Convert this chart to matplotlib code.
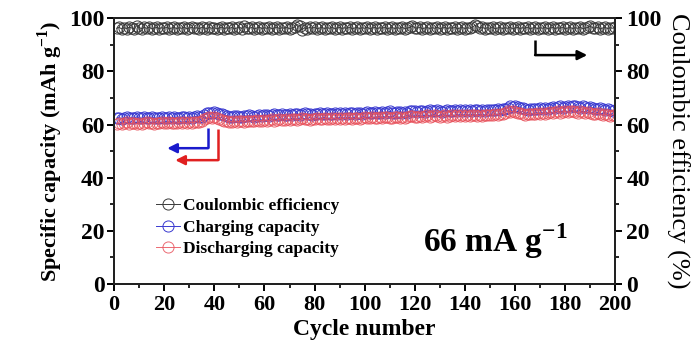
import matplotlib
matplotlib.use("Agg")
import matplotlib.pyplot as plt
import numpy as np
from matplotlib.ticker import MultipleLocator

plt.rcParams['font.family'] = ['Liberation Serif', 'DejaVu Serif']
plt.rcParams['mathtext.fontset'] = 'custom'
plt.rcParams['mathtext.rm'] = 'Liberation Serif'
plt.rcParams['mathtext.bf'] = 'Liberation Serif:bold'

cycles = np.arange(1, 201)

charge = [
    62.4, 62.6, 62.2, 62.5, 62.8, 62.3, 62.6, 62.4, 62.9, 62.5, 62.3, 62.7, 62.4, 62.6, 62.8, 62.5, 62.3, 62.6, 62.9, 62.5,
    62.4, 62.7, 62.5, 62.8, 62.6, 62.4, 62.9, 62.7, 62.5, 62.8, 62.6, 62.9, 63.1, 62.8, 63.0, 63.6, 64.2, 64.5, 64.3, 64.6,
    64.4, 64.1, 63.8, 63.6, 63.3, 63.0, 62.8, 63.1, 63.2, 62.9, 63.0, 63.3, 63.1, 63.4, 63.2, 63.0, 63.3, 63.5, 63.2, 63.4,
    63.6, 63.3, 63.5, 63.8, 63.4, 63.6, 63.9, 63.5, 63.7, 64.0, 63.6, 63.8, 64.1, 63.7, 63.9, 64.2, 63.8, 64.0, 63.7, 64.1,
    63.9, 64.2, 63.8, 64.0, 64.3, 63.9, 64.1, 64.4, 64.0, 64.2, 63.9, 64.3, 64.1, 64.4, 64.2, 64.0, 64.3, 64.5, 64.1, 64.3,
    64.6, 64.2, 64.4, 64.7, 64.3, 64.5, 64.8, 64.4, 64.6, 64.9, 64.5, 64.3, 64.6, 64.8, 64.4, 64.7, 64.5, 64.9, 65.2, 65.0,
    64.7, 64.9, 65.1, 64.8, 65.0, 65.3, 64.9, 65.1, 65.4, 65.0, 64.8, 65.1, 65.3, 64.9, 65.2, 65.5, 65.1, 65.3, 65.0, 65.4,
    65.2, 65.5, 65.1, 65.3, 65.6, 65.2, 65.4, 65.1, 65.5, 65.3, 65.6, 65.4, 65.8, 65.5, 65.7, 66.0, 66.4, 66.8, 66.6, 66.9,
    66.7, 66.4, 66.1, 65.8, 65.6, 65.9, 65.7, 66.0, 65.8, 66.1, 65.9, 66.2, 66.0, 66.3, 66.5, 66.2, 66.6, 66.8, 66.4, 66.7,
    66.9, 66.5, 66.8, 67.1, 66.7, 66.4, 66.8, 66.5, 66.2, 66.6, 66.3, 66.0, 65.8, 66.1, 65.7, 65.4, 65.8, 65.5, 65.2, 65.6,
]

discharge = [
    60.3, 60.6, 60.1, 60.5, 60.8, 60.2, 60.4, 60.7, 60.3, 60.6, 60.2, 60.5, 60.8, 60.4, 60.6, 60.3, 60.7, 60.5, 60.9, 60.4,
    60.6, 60.8, 60.4, 60.7, 60.5, 60.9, 60.6, 60.8, 60.5, 61.0, 60.7, 60.9, 61.1, 60.8, 61.3, 61.9, 62.4, 62.7, 62.5, 62.8,
    62.5, 62.2, 61.8, 61.5, 61.2, 60.9, 61.1, 61.3, 61.0, 61.2, 61.4, 61.1, 61.3, 61.5, 61.2, 61.4, 61.6, 61.3, 61.5, 61.7,
    61.4, 61.6, 61.9, 61.5, 61.7, 62.0, 61.6, 61.8, 62.1, 61.7, 61.9, 62.2, 61.8, 62.0, 62.3, 61.9, 62.1, 61.8, 62.2, 62.0,
    62.3, 61.9, 62.1, 62.4, 62.0, 62.2, 62.5, 62.1, 62.3, 62.0, 62.4, 62.2, 62.5, 62.3, 62.1, 62.4, 62.6, 62.2, 62.4, 62.7,
    62.3, 62.5, 62.8, 62.4, 62.6, 62.9, 62.5, 62.7, 63.0, 62.6, 62.4, 62.7, 62.9, 62.5, 62.8, 62.6, 63.0, 63.3, 63.1, 62.8,
    63.0, 63.2, 62.9, 63.1, 63.4, 63.0, 63.2, 63.5, 63.1, 62.9, 63.2, 63.4, 63.0, 63.3, 63.6, 63.2, 63.4, 63.1, 63.5, 63.3,
    63.6, 63.2, 63.4, 63.7, 63.3, 63.5, 63.2, 63.6, 63.4, 63.7, 63.5, 63.9, 63.6, 63.8, 64.1, 64.5, 64.9, 64.7, 65.0, 64.8,
    64.5, 64.2, 63.9, 63.7, 64.0, 63.8, 64.1, 63.9, 64.2, 64.0, 64.3, 64.1, 64.4, 64.6, 64.3, 64.7, 64.9, 64.5, 64.8, 65.0,
    64.6, 64.9, 65.2, 64.8, 64.5, 64.9, 64.6, 64.3, 64.7, 64.4, 64.1, 63.9, 64.2, 63.8, 63.5, 63.9, 63.6, 63.3, 63.7, 63.5,
]

efficiency = [
    96.2, 96.5, 96.0, 96.4, 96.1, 96.6, 96.3, 96.0, 97.2, 96.4, 96.1, 96.5, 96.2, 96.6, 96.0, 96.3, 96.5, 96.1, 96.4, 96.2,
    96.6, 96.0, 96.3, 96.5, 96.1, 96.4, 96.2, 96.6, 96.0, 96.3, 96.5, 96.2, 96.4, 96.0, 96.6, 96.3, 96.1, 96.5, 96.2, 96.4,
    96.0, 96.3, 96.6, 96.1, 96.4, 96.2, 96.5, 96.0, 96.3, 96.6, 96.1, 97.0, 96.4, 96.2, 96.5, 96.0, 96.3, 96.6, 96.1, 96.4,
    96.2, 96.5, 96.0, 96.3, 96.6, 96.1, 96.4, 96.2, 96.5, 96.0, 96.3, 96.6, 97.6, 97.2, 95.6, 96.4, 96.1, 96.5, 96.2, 96.6,
    96.0, 96.3, 96.5, 96.1, 96.4, 96.2, 96.6, 96.0, 96.3, 96.5, 96.1, 96.4, 96.2, 96.6, 96.0, 96.3, 96.5, 96.1, 96.4, 96.2,
    96.6, 96.0, 96.3, 96.5, 96.1, 96.4, 96.2, 96.6, 96.0, 96.3, 96.5, 96.1, 96.4, 96.2, 96.6, 96.0, 96.3, 96.5, 97.1, 96.4,
    96.2, 96.6, 96.0, 96.3, 96.5, 96.1, 96.4, 96.2, 96.6, 96.0, 96.3, 96.5, 96.1, 96.4, 96.2, 96.6, 96.0, 96.3, 96.5, 96.1,
    96.4, 96.2, 96.6, 97.3, 96.9, 96.3, 96.5, 96.1, 96.4, 96.2, 96.6, 96.0, 96.3, 96.5, 96.1, 96.4, 96.2, 96.6, 96.0, 96.3,
    96.5, 96.1, 96.4, 96.2, 96.6, 96.0, 96.3, 96.5, 96.1, 96.4, 96.2, 96.6, 96.0, 96.3, 96.5, 96.1, 96.4, 96.2, 96.6, 96.0,
    96.3, 96.5, 96.1, 96.4, 96.2, 96.6, 96.0, 96.3, 96.5, 97.0, 96.4, 96.2, 96.6, 96.0, 96.3, 96.5, 96.1, 96.4, 96.2, 96.6,
]

black = '#3a3a3a'
blue = '#3a3ad0'
red = '#e8505a'

fig = plt.figure(figsize=(7.0, 3.49), dpi=100)
ax = fig.add_axes([0.163, 0.186, 0.716, 0.762])
ax2 = ax.twinx()

mk = dict(marker='o', markersize=8, markerfacecolor='none', markeredgewidth=0.7, linewidth=0.7)
l_ce, = ax2.plot(cycles, efficiency, color=black, **mk, label='Coulombic efficiency')
l_ch, = ax.plot(cycles, charge, color=blue, **mk, label='Charging capacity')
l_dis, = ax.plot(cycles, discharge, color=red, alpha=0.85, **mk, label='Discharging capacity')

for a in (ax, ax2):
    a.set_ylim(0, 100)
    a.yaxis.set_major_locator(MultipleLocator(20))
    a.yaxis.set_minor_locator(MultipleLocator(10))
    a.tick_params(which='major', direction='out', length=5, width=1.4, labelsize=17)
    a.tick_params(which='minor', direction='out', length=3, width=1.2)
    for s in a.spines.values():
        s.set_linewidth(1.4)
        s.set_color('#222222')
ax.set_xlim(0, 200)
ax.xaxis.set_major_locator(MultipleLocator(20))
ax.xaxis.set_minor_locator(MultipleLocator(10))
ax.tick_params(axis='x', which='major', pad=3, labelsize=16)
ax.tick_params(axis='y', which='major', pad=2)
ax2.tick_params(axis='y', which='major', pad=3)

for lab in ax.get_xticklabels() + ax.get_yticklabels() + ax2.get_yticklabels():
    lab.set_fontweight('bold')

ax.set_xlabel('Cycle number', fontsize=17, fontweight='bold', labelpad=3)
ax.set_ylabel(r'Specific capacity (mAh g$^{\mathbf{-1}}$)', fontsize=16, fontweight='bold', labelpad=3)
ax2.set_ylabel('Coulombic efficiency (%)', fontsize=19, rotation=270, labelpad=20)

# direction arrows pointing to each axis
arr = dict(arrowstyle='-|>', mutation_scale=14, linewidth=1.8, shrinkA=0, shrinkB=0)
ax.plot([37.5, 37.5], [58.6, 51.1], color='#1a1acc', linewidth=1.8, solid_capstyle='butt')
ax.annotate('', xy=(21.2, 51.1), xytext=(37.5, 51.1), arrowprops=dict(arr, color='#1a1acc'))
ax.plot([41.5, 41.5], [58.3, 46.6], color='#e02020', linewidth=1.8, solid_capstyle='butt')
ax.annotate('', xy=(24.4, 46.6), xytext=(41.5, 46.6), arrowprops=dict(arr, color='#e02020'))
ax.plot([168, 168], [91.7, 86.1], color='black', linewidth=1.8, solid_capstyle='butt')
ax.annotate('', xy=(188.8, 86.1), xytext=(168, 86.1), arrowprops=dict(arr, color='black'))

ax.text(152, 16, r'66 mA g$^{\mathbf{-1}}$', fontsize=24, fontweight='bold', ha='center', va='center')

leg = ax.legend(handles=[l_ce, l_ch, l_dis], loc='lower left', bbox_to_anchor=(0.07, 0.075),
                frameon=False, prop={'weight': 'bold', 'size': 12.5}, handlelength=1.4,
                handletextpad=0.15, labelspacing=0.3, borderaxespad=0)

fig.savefig('out.png', dpi=100)
